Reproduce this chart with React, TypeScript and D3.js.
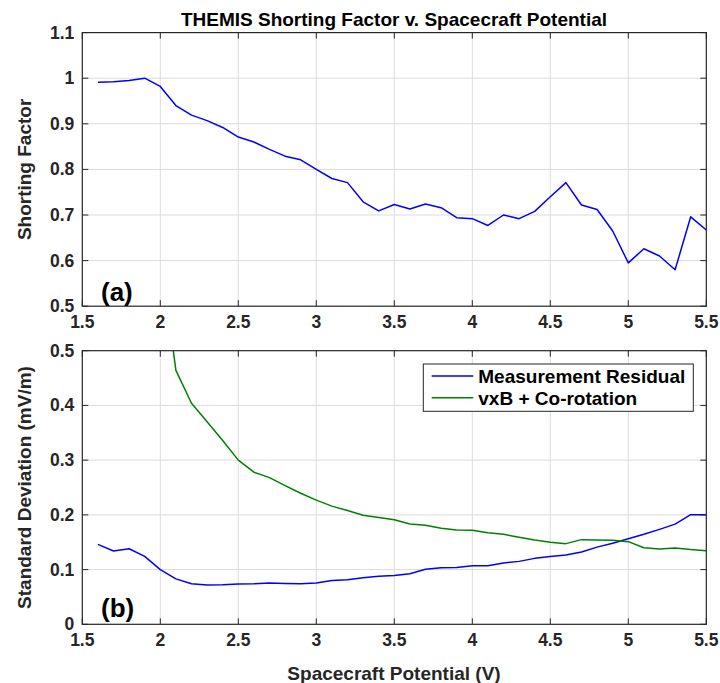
import React from "react";
import * as d3 from "d3";

const potentials = [1.6,1.7,1.8,1.9,2.0,2.1,2.2,2.3,2.4,2.5,2.6,2.7,2.8,2.9,3.0,3.1,3.2,3.3,3.4,3.5,3.6,3.7,3.8,3.9,4.0,4.1,4.2,4.3,4.4,4.5,4.6,4.7,4.8,4.9,5.0,5.1,5.2,5.3,5.4,5.5];
const shortingFactor = [0.991,0.992,0.995,1.0,0.982,0.94,0.919,0.907,0.892,0.871,0.86,0.844,0.829,0.821,0.8,0.78,0.771,0.729,0.709,0.723,0.713,0.724,0.716,0.694,0.692,0.677,0.7,0.692,0.708,0.74,0.771,0.722,0.712,0.665,0.595,0.626,0.61,0.58,0.696,0.667];
const residual = [0.146,0.134,0.138,0.124,0.1,0.083,0.074,0.072,0.0725,0.0737,0.074,0.0755,0.0745,0.074,0.0755,0.08,0.0815,0.085,0.088,0.089,0.0925,0.1005,0.1035,0.104,0.107,0.107,0.112,0.115,0.1205,0.124,0.1265,0.132,0.141,0.148,0.1565,0.1645,0.1735,0.183,0.2003,0.2003];
const vxbPotentials = [2.0,2.1,2.2,2.3,2.4,2.5,2.6,2.7,2.8,2.9,3.0,3.1,3.2,3.3,3.4,3.5,3.6,3.7,3.8,3.9,4.0,4.1,4.2,4.3,4.4,4.5,4.6,4.7,4.8,4.9,5.0,5.1,5.2,5.3,5.4,5.5];
const vxbCorotation = [0.68,0.464,0.404,0.37,0.336,0.3,0.278,0.268,0.2535,0.2395,0.227,0.216,0.208,0.1993,0.195,0.191,0.1834,0.181,0.1755,0.1724,0.172,0.1675,0.1645,0.159,0.154,0.15,0.1474,0.1547,0.154,0.1534,0.151,0.14,0.1377,0.1395,0.1365,0.1345];

const xTicks = [1.5,2,2.5,3,3.5,4,4.5,5,5.5];
const topYTicks = [0.5,0.6,0.7,0.8,0.9,1.0,1.1];
const botYTicks = [0,0.1,0.2,0.3,0.4,0.5];
const title = "THEMIS Shorting Factor v. Spacecraft Potential";
const legendLabels = ["Measurement Residual", "vxB + Co-rotation"];

const FONT = "'Liberation Sans', Arial, Helvetica, sans-serif";
const AXC = "#262626";
const GRIDC = "#dcdcdc";
const TICKFS = 17.5;
const LABFS = 19;

const left = 82.3, right = 706.3;
const x = d3.scaleLinear().domain([1.5, 5.5]).range([left, right]);
const yTop = d3.scaleLinear().domain([0.5, 1.1]).range([306.2, 32.6]);
const yBot = d3.scaleLinear().domain([0, 0.5]).range([624.3, 350.7]);

const fmt = (v: number) => (v === 1 ? "1" : v === 0 ? "0" : String(v));

function Panel({ y, yTicks, id }: { y: d3.ScaleLinear<number, number>; yTicks: number[]; id: string }) {
  const [y0, y1] = y.range();
  const tl = 6;
  return (
    <g>
      <defs>
        <clipPath id={id}>
          <rect x={left} y={y1} width={right - left} height={y0 - y1} />
        </clipPath>
      </defs>
      <rect x={left} y={y1} width={right - left} height={y0 - y1} fill="white" />
      {xTicks.slice(1, -1).map((t) => (
        <line key={"gx" + t} x1={x(t)} x2={x(t)} y1={y0} y2={y1} stroke={GRIDC} strokeWidth={1} />
      ))}
      {yTicks.slice(1, -1).map((t) => (
        <line key={"gy" + t} x1={left} x2={right} y1={y(t)} y2={y(t)} stroke={GRIDC} strokeWidth={1} />
      ))}
      {xTicks.map((t) => (
        <g key={"tx" + t}>
          <line x1={x(t)} x2={x(t)} y1={y0} y2={y0 - tl} stroke={AXC} />
          <line x1={x(t)} x2={x(t)} y1={y1} y2={y1 + tl} stroke={AXC} />
          <text x={x(t)} y={y0 + 22} textAnchor="middle" fontSize={TICKFS} fontWeight="bold" fill={AXC} fontFamily={FONT}>
            {fmt(t)}
          </text>
        </g>
      ))}
      {yTicks.map((t) => (
        <g key={"ty" + t}>
          <line x1={left} x2={left + tl} y1={y(t)} y2={y(t)} stroke={AXC} />
          <line x1={right} x2={right - tl} y1={y(t)} y2={y(t)} stroke={AXC} />
          <text x={left - 8} y={y(t) + 6} textAnchor="end" fontSize={TICKFS} fontWeight="bold" fill={AXC} fontFamily={FONT}>
            {fmt(t)}
          </text>
        </g>
      ))}
    </g>
  );
}

export default function App() {
  const lineTop = d3.line<number>().x((_, i) => x(potentials[i])).y((d) => yTop(d));
  const lineRes = d3.line<number>().x((_, i) => x(potentials[i])).y((d) => yBot(d));
  const lineVxb = d3.line<number>().x((_, i) => x(vxbPotentials[i])).y((d) => yBot(d));
  const [tb, tt] = yTop.range();
  const [bb, bt] = yBot.range();
  const legX = 423.3, legY = 364, legW = 270, legH = 47.3;
  return (
    <svg width={720} height={683} style={{ display: "block", position: "absolute", left: 0, top: 0 }}>
      <rect width={720} height={683} fill="white" />
      <text x={394} y={26} textAnchor="middle" fontSize={LABFS} fontWeight="bold" fill="#000" fontFamily={FONT}>
        {title}
      </text>
      <Panel y={yTop} yTicks={topYTicks} id="clipTop" />
      <Panel y={yBot} yTicks={botYTicks} id="clipBot" />
      <g clipPath="url(#clipTop)">
        <path d={lineTop(shortingFactor) || ""} fill="none" stroke="#0000ff" strokeWidth={1.5} strokeLinejoin="round" />
      </g>
      <g clipPath="url(#clipBot)">
        <path d={lineRes(residual) || ""} fill="none" stroke="#0000ff" strokeWidth={1.5} strokeLinejoin="round" />
        <path d={lineVxb(vxbCorotation) || ""} fill="none" stroke="#008000" strokeWidth={1.5} strokeLinejoin="round" />
      </g>
      <rect x={left} y={tt} width={right - left} height={tb - tt} fill="none" stroke={AXC} strokeWidth={1.2} />
      <rect x={left} y={bt} width={right - left} height={bb - bt} fill="none" stroke={AXC} strokeWidth={1.2} />
      <text x={101} y={301} fontSize={26} fontWeight="bold" fill="#000" fontFamily={FONT}>(a)</text>
      <text x={101} y={617} fontSize={26} fontWeight="bold" fill="#000" fontFamily={FONT}>(b)</text>
      <text transform={`translate(31,${(tt + tb) / 2}) rotate(-90)`} textAnchor="middle" fontSize={LABFS} fontWeight="bold" fill={AXC} fontFamily={FONT}>
        Shorting Factor
      </text>
      <text transform={`translate(31,${(bt + bb) / 2}) rotate(-90)`} textAnchor="middle" fontSize={LABFS} fontWeight="bold" fill={AXC} fontFamily={FONT}>
        Standard Deviation (mV/m)
      </text>
      <text x={394} y={680} textAnchor="middle" fontSize={LABFS} fontWeight="bold" fill={AXC} fontFamily={FONT}>
        Spacecraft Potential (V)
      </text>
      <rect x={legX} y={legY} width={legW} height={legH} fill="white" stroke={AXC} strokeWidth={1} />
      {legendLabels.map((lab, i) => (
        <g key={lab}>
          <line x1={431.7} x2={473.3} y1={legY + 12 + i * 21.7} y2={legY + 12 + i * 21.7} stroke={i === 0 ? "#0000ff" : "#008000"} strokeWidth={1.5} />
          <text x={478.3} y={legY + 19 + i * 21.7} fontSize={LABFS} fontWeight="bold" fill="#000" fontFamily={FONT}>
            {lab}
          </text>
        </g>
      ))}
    </svg>
  );
}
